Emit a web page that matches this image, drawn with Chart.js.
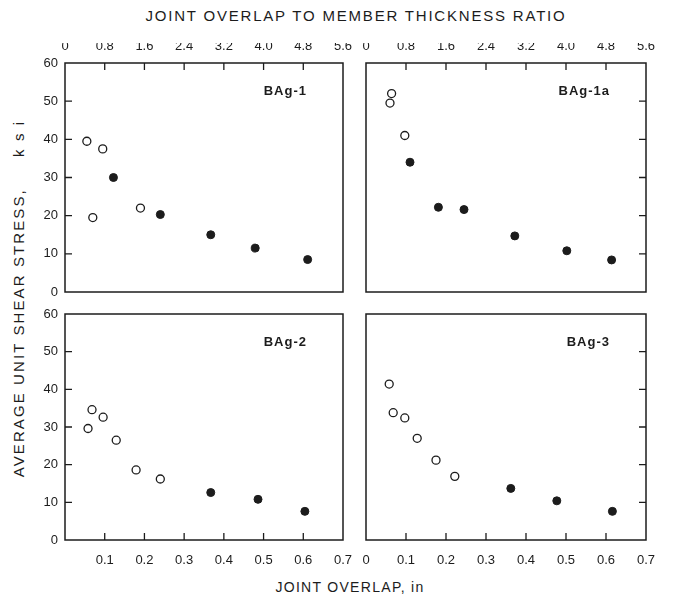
<!DOCTYPE html>
<html>
<head>
<meta charset="utf-8">
<script src="https://cdn.jsdelivr.net/npm/chart.js@4.4.0/dist/chart.umd.min.js"></script>
<style>
  body { margin: 0; background: #fff; }
  #wrap { position: relative; width: 673px; height: 600px; overflow: hidden;
          font-family: "Liberation Sans", Arial, sans-serif; color: #1c1c1c; }
  #wrap canvas { position: absolute; left: 0; top: 0; }
  .title { position: absolute; white-space: nowrap; font-size: 15px; letter-spacing: 1.8px; text-align: center; }
</style>
</head>
<body>
<div id="wrap">
  <div class="title" style="left:0; width:712px; top:7px;">JOINT OVERLAP TO MEMBER THICKNESS RATIO</div>
  <div class="title" style="left:150px; width:400px; top:579px; font-size:14px; letter-spacing:1.3px;">JOINT OVERLAP, in</div>
  <div class="title" style="left:-182px; width:400px; top:290px; letter-spacing:2.1px; transform:rotate(-90deg);">AVERAGE UNIT SHEAR STRESS,&nbsp;&nbsp;&nbsp;&nbsp;&nbsp;k s i</div>
  <canvas id="pTL" width="673" height="600"></canvas>
  <canvas id="pTR" width="673" height="600"></canvas>
  <canvas id="pBL" width="673" height="600"></canvas>
  <canvas id="pBR" width="673" height="600"></canvas>
</div>
<script>
// tick values
const overlapTicks = [0, 0.1, 0.2, 0.3, 0.4, 0.5, 0.6, 0.7];
const ratioTicks = [0, 0.8, 1.6, 2.4, 3.2, 4.0, 4.8, 5.6];
const stressTicks = [0, 10, 20, 30, 40, 50, 60];

// BAg-1
const bag1OpenX = [0.055, 0.07, 0.095, 0.19];
const bag1OpenY = [39.5, 19.5, 37.5, 22];
const bag1SolidX = [0.122, 0.24, 0.367, 0.479, 0.611];
const bag1SolidY = [30, 20.3, 15, 11.5, 8.5];

// BAg-1a
const bag1aOpenX = [0.064, 0.06, 0.097];
const bag1aOpenY = [52, 49.5, 41];
const bag1aSolidX = [0.11, 0.181, 0.245, 0.372, 0.502, 0.614];
const bag1aSolidY = [34, 22.2, 21.6, 14.7, 10.8, 8.4];

// BAg-2
const bag2OpenX = [0.058, 0.068, 0.096, 0.129, 0.179, 0.24];
const bag2OpenY = [29.6, 34.6, 32.6, 26.5, 18.6, 16.2];
const bag2SolidX = [0.367, 0.486, 0.604];
const bag2SolidY = [12.6, 10.8, 7.6];

// BAg-3
const bag3OpenX = [0.058, 0.068, 0.097, 0.128, 0.175, 0.222];
const bag3OpenY = [41.4, 33.8, 32.4, 27, 21.2, 16.9];
const bag3SolidX = [0.362, 0.477, 0.616];
const bag3SolidY = [13.7, 10.4, 7.6];

const INK = '#1c1c1c';
const Y_AXIS_W = 30, TOP_AXIS_H = 20, BOTTOM_AXIS_H = 26;

const panels = [
  { canvas: 'pTL', name: 'BAg-1', openX: bag1OpenX, openY: bag1OpenY, solidX: bag1SolidX, solidY: bag1SolidY,
    area: { left: 65, top: 63, right: 343, bottom: 292 }, col: 'left', row: 'top' },
  { canvas: 'pTR', name: 'BAg-1a', openX: bag1aOpenX, openY: bag1aOpenY, solidX: bag1aSolidX, solidY: bag1aSolidY,
    area: { left: 366, top: 63, right: 646, bottom: 292 }, col: 'right', row: 'top' },
  { canvas: 'pBL', name: 'BAg-2', openX: bag2OpenX, openY: bag2OpenY, solidX: bag2SolidX, solidY: bag2SolidY,
    area: { left: 65, top: 314, right: 343, bottom: 540 }, col: 'left', row: 'bottom' },
  { canvas: 'pBR', name: 'BAg-3', openX: bag3OpenX, openY: bag3OpenY, solidX: bag3SolidX, solidY: bag3SolidY,
    area: { left: 366, top: 314, right: 646, bottom: 540 }, col: 'right', row: 'bottom' }
];

const zip = (xs, ys) => xs.map((x, i) => ({ x: x, y: ys[i] }));
const fmt1 = v => (v === 0 ? '0' : v.toFixed(1));
const tickFont = { family: '"Liberation Sans", Arial, sans-serif', size: 13 };

// panel border, inward tick marks and the alloy label
const framePlugin = {
  id: 'frame',
  afterDraw(chart, args, opts) {
    const { ctx, chartArea: a, scales } = chart;
    const len = 7;
    ctx.save();
    ctx.strokeStyle = INK;
    ctx.lineWidth = 1.5;
    ctx.strokeRect(a.left, a.top, a.right - a.left, a.bottom - a.top);
    ctx.lineWidth = 1.3;
    ctx.beginPath();
    overlapTicks.slice(1, -1).forEach(v => {
      const px = scales.x.getPixelForValue(v);
      if (opts.row === 'top') { ctx.moveTo(px, a.top); ctx.lineTo(px, a.top + len); }
      else { ctx.moveTo(px, a.bottom); ctx.lineTo(px, a.bottom - len); }
    });
    stressTicks.slice(1, -1).forEach(v => {
      const py = scales.y.getPixelForValue(v);
      if (opts.col === 'left') { ctx.moveTo(a.left, py); ctx.lineTo(a.left + len, py); }
      else { ctx.moveTo(a.right, py); ctx.lineTo(a.right - len, py); }
    });
    ctx.stroke();
    ctx.fillStyle = INK;
    ctx.font = 'bold 13px "Liberation Sans", Arial, sans-serif';
    ctx.letterSpacing = '1px';
    ctx.textAlign = 'right';
    ctx.textBaseline = 'middle';
    ctx.fillText(opts.name, a.right - 36, a.top + 28);
    ctx.restore();
  }
};

function makePanel(p) {
  const showLeft = p.col === 'left';
  const showTop = p.row === 'top';
  const showBottom = p.row === 'bottom';
  const padding = {
    left: p.area.left - (showLeft ? Y_AXIS_W : 0),
    top: p.area.top - (showTop ? TOP_AXIS_H : 0),
    right: 673 - p.area.right,
    bottom: 600 - p.area.bottom - (showBottom ? BOTTOM_AXIS_H : 0)
  };
  return new Chart(document.getElementById(p.canvas), {
    type: 'scatter',
    data: {
      datasets: [
        { data: zip(p.openX, p.openY), pointRadius: 4, borderWidth: 1.3,
          borderColor: INK, backgroundColor: '#fff' },
        { data: zip(p.solidX, p.solidY), pointRadius: 4, borderWidth: 1,
          borderColor: INK, backgroundColor: INK }
      ]
    },
    options: {
      responsive: false,
      animation: false,
      events: [],
      layout: { padding: padding },
      plugins: {
        legend: { display: false },
        tooltip: { enabled: false },
        frame: { name: p.name, row: p.row, col: p.col }
      },
      scales: {
        x: {
          type: 'linear', position: 'bottom', min: 0, max: 0.7, display: showBottom,
          afterBuildTicks: s => { s.ticks = overlapTicks.map(v => ({ value: v })); },
          afterFit: s => { s.height = showBottom ? BOTTOM_AXIS_H : 0; },
          grid: { display: false, drawTicks: false }, border: { display: false },
          ticks: { color: INK, font: tickFont, padding: 13, maxRotation: 0, autoSkip: false,
                   callback: v => (v === 0 && showLeft ? '' : fmt1(v)) }
        },
        ratio: {
          type: 'linear', position: 'top', min: 0, max: 5.6, display: showTop,
          afterBuildTicks: s => { s.ticks = ratioTicks.map(v => ({ value: v })); },
          afterFit: s => { s.height = showTop ? TOP_AXIS_H : 0; },
          grid: { display: false, drawTicks: false }, border: { display: false },
          ticks: { color: INK, font: tickFont, padding: 9, maxRotation: 0, autoSkip: false,
                   callback: v => fmt1(v) }
        },
        y: {
          type: 'linear', position: 'left', min: 0, max: 60, display: showLeft,
          afterBuildTicks: s => { s.ticks = stressTicks.map(v => ({ value: v })); },
          afterFit: s => { s.width = showLeft ? Y_AXIS_W : 0; },
          grid: { display: false, drawTicks: false }, border: { display: false },
          ticks: { color: INK, font: tickFont, padding: 7, autoSkip: false }
        }
      }
    },
    plugins: [framePlugin]
  });
}

panels.forEach(makePanel);
</script>
</body>
</html>
